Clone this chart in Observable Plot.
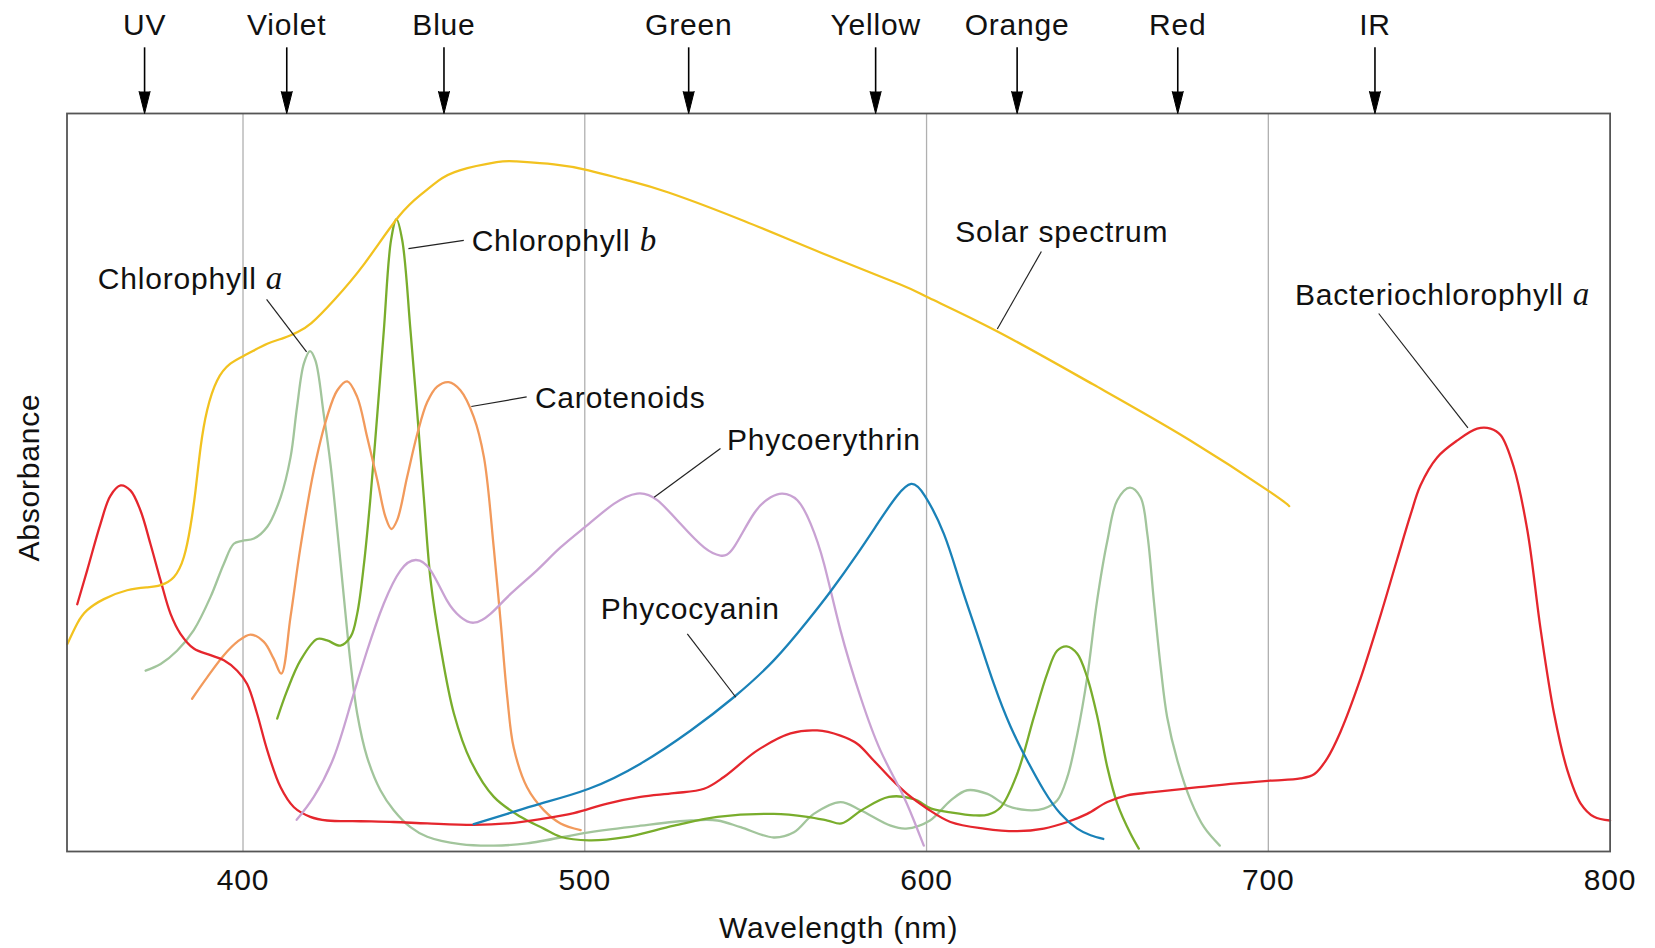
<!DOCTYPE html>
<html><head><meta charset="utf-8">
<script src="https://cdn.jsdelivr.net/npm/d3@7"></script>
<script src="https://cdn.jsdelivr.net/npm/@observablehq/plot@0.6"></script>
<style>
html,body{margin:0;padding:0;background:#fff;}
#chart{width:1655px;height:948px;}
</style></head><body><div id="chart"></div>
<script>
// ---- data: [wavelength (nm), relative absorbance (0-100)] ----
const solarSpectrum = [[348.6,28.1],[351.5,30.9],[354.4,32.7],[359.3,34.2],[366.1,35.4],[372.0,35.8],[375.9,36.1],[379.8,37.2],[382.7,39.9],[384.6,44.0],[386.1,48.9],[387.6,54.8],[389.5,59.8],[392.4,63.8],[396.3,66.1],[401.2,67.4],[407.1,68.8],[412.0,69.6],[416.0,70.4],[420.0,71.6],[426.6,74.7],[435.6,79.7],[445.5,86.0],[452.3,89.1],[457.2,90.9],[463.4,92.3],[474.2,93.4],[480.0,93.5],[491.0,93.1],[501.1,92.3],[512.0,91.0],[524.5,89.3],[546.8,85.4],[569.3,81.1],[592.5,76.8],[600.8,75.0],[620.6,70.5],[648.7,63.3],[676.8,55.8],[700.6,48.7],[706.1,46.8]];
const chlorophyllA = [[371.5,24.5],[375.9,25.4],[380.7,27.2],[385.6,30.0],[390.5,34.5],[394.4,39.0],[397.3,41.7],[399.8,42.1],[403.2,42.4],[407.1,44.0],[411.0,48.0],[413.9,53.4],[415.8,60.2],[417.8,66.1],[419.6,67.8],[421.2,66.5],[423.6,59.3],[425.6,52.5],[427.6,43.5],[429.5,34.5],[431.5,25.4],[433.4,18.7],[436.3,12.8],[440.2,8.3],[444.1,5.6],[449.0,3.3],[453.9,2.0],[463.6,1.0],[473.4,0.8],[483.1,1.1],[501.2,2.6],[516.3,3.5],[531.0,4.2],[538.8,4.2],[545.6,3.3],[555.3,1.9],[561.2,2.6],[567.0,5.1],[574.8,6.7],[580.7,5.6],[589.5,3.5],[594.0,3.1],[601.0,4.2],[607.0,6.9],[611.9,8.3],[617.8,7.8],[623.6,6.2],[629.5,5.6],[634.3,5.8],[638.2,6.9],[641.2,10.1],[644.1,15.9],[647.0,23.6],[649.9,34.0],[652.9,42.1],[655.8,47.6],[659.5,49.3],[662.6,48.0],[664.6,43.0],[666.5,34.0],[668.5,25.0],[670.4,18.2],[673.4,12.3],[677.3,6.9],[681.2,3.3],[685.8,0.8]];
const chlorophyllB = [[410.0,18.0],[412.9,21.8],[416.8,25.9],[421.7,28.8],[424.6,28.6],[428.5,27.9],[431.5,29.1],[433.4,32.2],[435.4,39.0],[437.3,48.0],[439.3,59.3],[441.2,70.6],[443.3,82.8],[444.9,85.7],[446.6,82.8],[449.0,70.6],[451.0,59.3],[452.9,48.0],[454.9,36.7],[457.8,27.7],[461.7,18.7],[466.6,12.3],[473.4,7.4],[481.2,4.7],[488.0,3.1],[492.9,2.0],[501.2,1.5],[511.4,1.9],[526.1,3.5],[538.8,4.7],[555.3,5.1],[565.1,4.7],[571.0,4.2],[575.1,3.8],[581.0,5.6],[589.0,7.4],[596.3,7.1],[601.4,5.8],[607.0,5.3],[613.8,4.9],[618.0,5.0],[621.7,6.0],[626.5,10.5],[631.4,18.2],[635.3,24.1],[638.2,27.2],[641.0,27.8],[644.1,26.8],[647.0,23.6],[650.0,18.2],[652.9,11.4],[655.8,6.5],[659.7,2.4],[662.1,0.4]];
const carotenoids = [[385.1,20.7],[389.5,23.6],[394.4,26.6],[398.3,28.4],[402.2,29.4],[406.1,28.4],[409.0,26.1],[411.2,24.1],[413.9,31.8],[416.8,41.2],[420.7,51.6],[424.6,58.9],[427.6,62.5],[430.5,63.7],[433.4,61.6],[436.3,56.2],[439.3,50.3],[441.7,45.3],[443.4,43.7],[445.1,44.9],[448.0,50.7],[451.0,56.6],[453.9,60.9],[456.8,63.0],[460.2,63.6],[463.6,62.5],[467.5,58.9],[470.5,53.4],[473.4,41.0],[475.4,31.0],[477.3,21.0],[479.2,14.1],[483.1,8.7],[488.0,5.6],[492.9,3.8],[498.8,2.9]];
const phycoerythrin = [[415.7,4.3],[420.7,7.4],[426.6,12.8],[431.5,20.0],[436.3,27.2],[441.2,33.6],[446.1,38.1],[450.5,39.5],[454.9,38.1],[459.7,34.0],[463.6,31.8],[467.5,31.0],[472.4,32.2],[478.3,34.9],[486.0,38.1],[492.9,41.2],[501.2,44.4],[508.5,47.1],[515.3,48.5],[521.2,47.6],[528.0,44.4],[534.9,41.2],[539.7,40.1],[543.6,41.2],[549.5,45.8],[554.4,48.0],[557.8,48.5],[562.2,47.6],[566.1,44.4],[570.0,39.0],[574.8,30.0],[580.7,20.9],[586.5,13.7],[592.4,8.3],[596.3,4.2],[599.2,0.8]];
const phycocyanin = [[467.5,3.7],[477.3,5.1],[487.1,6.5],[501.2,8.5],[516.3,11.9],[531.0,16.4],[543.6,20.9],[555.3,25.9],[565.1,31.2],[572.0,35.3],[579.7,40.3],[586.5,45.0],[591.4,48.2],[595.5,49.8],[599.5,48.2],[605.1,43.0],[609.9,36.3],[614.8,29.5],[619.7,22.7],[624.6,16.9],[629.5,12.3],[634.3,8.3],[639.2,5.1],[644.1,3.1],[648.0,2.2],[651.7,1.7]];
const bacteriochlorophyllA = [[351.5,33.5],[354.4,38.1],[358.3,44.4],[361.2,48.2],[364.2,49.6],[367.1,48.9],[370.0,46.2],[372.9,41.7],[375.9,36.7],[378.8,32.2],[381.7,29.5],[385.6,27.5],[390.5,26.6],[394.4,25.9],[398.3,24.5],[401.2,22.7],[404.1,18.7],[407.1,13.7],[411.0,8.7],[414.9,6.0],[419.7,4.7],[424.6,4.2],[434.4,4.1],[444.1,4.0],[453.9,3.8],[467.6,3.6],[477.3,3.8],[487.1,4.4],[496.8,5.2],[506.6,6.5],[516.3,7.4],[526.1,7.9],[534.9,8.5],[540.7,10.1],[550.5,13.7],[560.2,16.0],[568.0,16.4],[574.8,15.7],[579.7,14.6],[584.6,12.3],[589.5,9.9],[594.3,7.8],[600.2,5.8],[607.0,4.0],[616.8,3.1],[626.5,2.75],[634.3,3.1],[641.2,4.0],[647.0,5.1],[652.9,6.7],[658.7,7.6],[665.5,8.0],[675.3,8.5],[689.9,9.2],[700.5,9.6],[709.4,9.9],[713.5,10.5],[717.2,12.6],[721.1,16.2],[726.5,22.8],[732.3,31.2],[737.7,39.6],[741.6,45.6],[744.5,49.6],[749.4,53.4],[755.3,55.7],[761.1,57.3],[765.0,57.3],[768.0,56.4],[771.8,52.1],[775.8,43.5],[779.7,30.0],[783.6,18.7],[787.5,11.0],[791.4,6.5],[795.3,4.7],[800.0,4.2]];

const seriesNames = ["Solar spectrum","Chlorophyll a","Chlorophyll b","Carotenoids","Phycoerythrin","Phycocyanin","Bacteriochlorophyll a"];
const seriesColors = ["#f2c21f","#a2c59c","#79ad2c","#f29a5c","#c9a2d3","#1a82b8","#e5262d"];
const smoothSeries = ["Solar spectrum","Phycoerythrin","Phycocyanin"];

// spectral band markers along the top
const bandNames = ["UV","Violet","Blue","Green","Yellow","Orange","Red","IR"];
const bandWavelengths = [371.2,412.8,458.8,530.4,585.1,626.5,673.5,731.2];

// curve labels (text, anchor wavelength, anchor absorbance); "|" marks italic part
const labelTexts = ["Chlorophyll|a","Chlorophyll|b","Carotenoids","Phycoerythrin","Phycocyanin","Solar spectrum","Bacteriochlorophyll|a"];
const labelW = [357.5,466.9,485.4,541.6,504.7,608.4,707.8];
const labelA = [77.5,82.7,61.4,55.7,32.8,83.9,75.3];
// leader lines from labels to curves
const leaderW1 = [406.9,448.4,466.8,520.3,530.0,633.6,732.3];
const leaderA1 = [74.8,81.7,60.3,48.0,29.5,81.3,72.9];
const leaderW2 = [418.6,464.6,483.0,539.7,544.2,620.7,758.4];
const leaderA2 = [67.7,82.8,61.6,54.6,20.9,70.8,57.4];

const xTicks = [400,500,600,700,800];
const gridLines = [400,500,600,700];

// ---- build tables ----
const allSeries = [solarSpectrum, chlorophyllA, chlorophyllB, carotenoids, phycoerythrin, phycocyanin, bacteriochlorophyllA];
const curves = allSeries.flatMap((pts, i) => pts.map(([w, a]) => ({name: seriesNames[i], w, a})));
const smoothCurves = curves.filter(d => smoothSeries.includes(d.name));
const otherCurves = curves.filter(d => !smoothSeries.includes(d.name));
const bands = bandNames.map((name, i) => ({name, w: bandWavelengths[i]}));
const labels = labelTexts.map((text, i) => ({text, w: labelW[i], a: labelA[i]}));
const leaders = leaderW1.map((w1, i) => ({w1, a1: leaderA1[i], w2: leaderW2[i], a2: leaderA2[i]}));

const FONT = "'Liberation Sans', Arial, Helvetica, sans-serif";

const plot = Plot.plot({
  width: 1655,
  height: 948,
  marginLeft: 66.5,
  marginRight: 45.4,
  marginTop: 113,
  marginBottom: 97,
  style: {fontFamily: FONT, fontSize: "30px", color: "#111", background: "#fff", letterSpacing: "0.8px"},
  x: {domain: [348.5, 800], ticks: xTicks, tickFormat: d => String(d), tickSize: 0, tickPadding: 17, label: null},
  y: {domain: [0, 100], axis: null},
  color: {domain: seriesNames, range: seriesColors},
  marks: [
    Plot.ruleX(gridLines, {stroke: "#b0b0b0", strokeWidth: 1.3}),
    Plot.line(otherCurves, {x: "w", y: "a", z: "name", stroke: "name", strokeWidth: 2.3, curve: "catmull-rom"}),
    Plot.line(smoothCurves, {x: "w", y: "a", z: "name", stroke: "name", strokeWidth: 2.3, curve: "natural"}),
    Plot.frame({stroke: "#555", strokeWidth: 1.8}),
    Plot.link(leaders, {x1: "w1", y1: "a1", x2: "w2", y2: "a2", stroke: "#222", strokeWidth: 1.2}),
    Plot.text(labels, {x: "w", y: "a", text: "text", textAnchor: "start", fontSize: 30, fill: "#111"}),
    Plot.ruleX(bands, {x: "w", y1: 108.9, y2: 102, stroke: "#000", strokeWidth: 1.6}),
    Plot.vector(bands, {x: "w", y: 100, length: 22, rotate: 180, shape: "spike", r: 5.5, anchor: "end", fill: "#000", fillOpacity: 1, stroke: "#000", strokeWidth: 1}),
    Plot.text(bands, {x: "w", y: 111.9, text: "name", fontSize: 30, fill: "#111"}),
    Plot.text(["Absorbance"], {frameAnchor: "left", textAnchor: "middle", lineAnchor: "middle", rotate: -90, dx: -38, dy: -5, fontSize: 30, fill: "#111"}),
    Plot.text(["Wavelength (nm)"], {frameAnchor: "bottom", textAnchor: "middle", lineAnchor: "middle", dy: 77, fontSize: 30, fill: "#111"})
  ]
});

// render the "|"-marked suffix as an italic serif tspan (math-style variable)
const NS = "http://www.w3.org/2000/svg";
plot.querySelectorAll("text").forEach(t => {
  const s = t.textContent;
  if (s.includes("|")) {
    const [main, ital] = s.split("|");
    t.textContent = main + " ";
    const ts = document.createElementNS(NS, "tspan");
    ts.textContent = ital;
    ts.setAttribute("font-family", "'Liberation Serif', 'DejaVu Serif', serif");
    ts.setAttribute("font-style", "italic");
    ts.setAttribute("font-size", "33");
    ts.setAttribute("letter-spacing", "0");
    t.appendChild(ts);
  }
});

document.getElementById("chart").appendChild(plot);
</script>
</body></html>
